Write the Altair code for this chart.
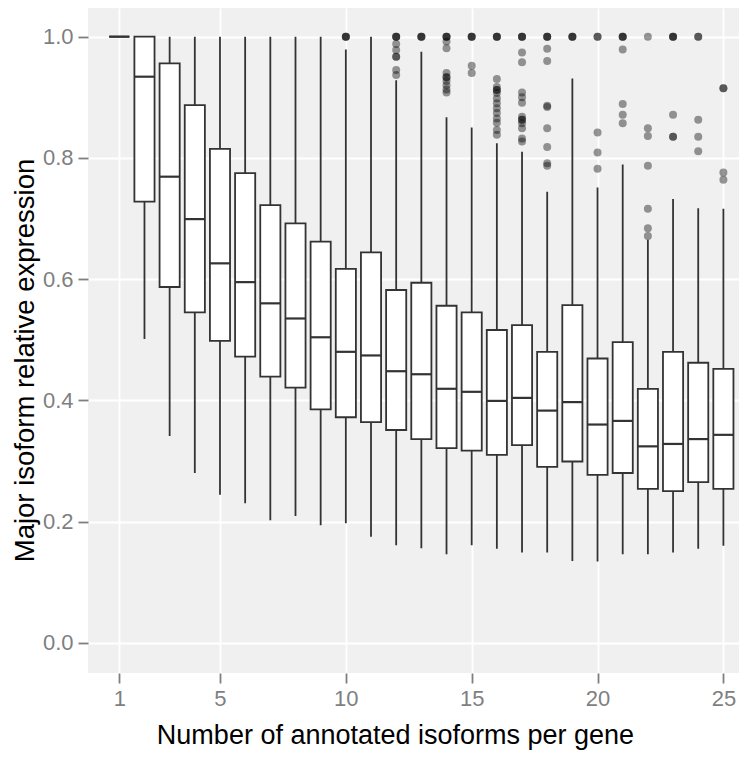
import altair as alt
import pandas as pd

# Box statistics per number of annotated isoforms
groups = list(range(1, 26))
lower = [1.0, 0.501, 0.341, 0.280, 0.244, 0.230, 0.202, 0.209, 0.194, 0.197,
         0.175, 0.161, 0.156, 0.146, 0.161, 0.155, 0.149, 0.149, 0.135, 0.134,
         0.146, 0.146, 0.149, 0.155, 0.160]
q1 = [1.0, 0.728, 0.587, 0.545, 0.498, 0.472, 0.439, 0.421, 0.385, 0.372,
      0.364, 0.351, 0.336, 0.321, 0.317, 0.310, 0.326, 0.290, 0.299, 0.277,
      0.280, 0.254, 0.250, 0.265, 0.254]
median = [1.0, 0.934, 0.769, 0.699, 0.626, 0.595, 0.560, 0.535, 0.504, 0.480,
          0.474, 0.448, 0.443, 0.419, 0.414, 0.399, 0.404, 0.383, 0.397, 0.360,
          0.366, 0.324, 0.328, 0.336, 0.343]
q3 = [1.0, 1.0, 0.956, 0.887, 0.815, 0.775, 0.722, 0.692, 0.662, 0.617,
      0.644, 0.582, 0.594, 0.556, 0.545, 0.516, 0.524, 0.480, 0.557, 0.469,
      0.496, 0.419, 0.480, 0.462, 0.452]
upper = [1.0, 1.0, 1.0, 1.0, 1.0, 1.0, 1.0, 1.0, 1.0, 0.979,
         1.0, 0.928, 0.975, 0.867, 0.850, 0.824, 0.810, 0.744, 0.931, 0.751,
         0.789, 0.665, 0.732, 0.717, 0.716]

# Outliers (repeated values reproduce the darker overlapping points)
outlier_group = (
    [10] * 3
    + [12] * 9
    + [13] * 3
    + [14] * 12
    + [15] * 5
    + [16] * 16
    + [17] * 15
    + [18] * 11
    + [19] * 3
    + [20] * 5
    + [21] * 7
    + [22] * 7
    + [23] * 6
    + [24] * 5
    + [25] * 4
)
outlier_value = (
    [1.0, 1.0, 1.0]
    + [1.0, 1.0, 1.0, 0.988, 0.978, 0.967, 0.967, 0.945, 0.937]
    + [1.0, 1.0, 1.0]
    + [1.0, 1.0, 1.0, 0.992, 0.981, 0.940, 0.933, 0.933, 0.927, 0.920, 0.913, 0.908]
    + [1.0, 1.0, 1.0, 0.952, 0.940]
    + [1.0, 1.0, 1.0, 0.930, 0.917, 0.912, 0.912, 0.907, 0.898, 0.890, 0.882,
       0.874, 0.865, 0.858, 0.846, 0.838]
    + [1.0, 1.0, 1.0, 0.974, 0.958, 0.908, 0.900, 0.891, 0.868, 0.863, 0.863,
       0.857, 0.849, 0.832, 0.827]
    + [1.0, 1.0, 1.0, 0.980, 0.960, 0.886, 0.884, 0.849, 0.818, 0.791, 0.787]
    + [1.0, 1.0, 1.0]
    + [1.0, 1.0, 0.842, 0.809, 0.782]
    + [1.0, 1.0, 1.0, 0.979, 0.889, 0.871, 0.857]
    + [1.0, 0.849, 0.836, 0.787, 0.716, 0.684, 0.671]
    + [1.0, 1.0, 1.0, 0.871, 0.835, 0.835]
    + [1.0, 1.0, 0.863, 0.835, 0.811]
    + [0.915, 0.915, 0.776, 0.764]
)

x_ticks = [1, 5, 10, 15, 20, 25]
y_ticks = [0.0, 0.2, 0.4, 0.6, 0.8, 1.0]

box_df = pd.DataFrame({"n": groups, "lower": lower, "q1": q1, "median": median,
                       "q3": q3, "upper": upper})
out_df = pd.DataFrame({"n": outlier_group, "value": outlier_value})

FONT = "Liberation Sans"
LINE = "#333333"
GREY = "#7f7f7f"

xscale = alt.Scale(domain=[-0.2436, 25.62], nice=False, zero=False)
yscale = alt.Scale(domain=[-0.05, 1.04736], nice=False, zero=False)

x_axis = alt.Axis(
    values=x_ticks, format="d", title="Number of annotated isoforms per gene",
    grid=True, gridColor="white", gridWidth=1.8, domain=False,
    tickColor=GREY, tickSize=10, tickWidth=1.8,
    labelColor=GREY, labelFont=FONT, labelFontSize=22, labelPadding=5,
    titleFont=FONT, titleFontSize=27, titleFontWeight="normal", titleColor="black",
    titleX=307, titleY=70, titleBaseline="alphabetic", titleAlign="center",
)
y_axis = alt.Axis(
    values=y_ticks, format=".1f", title="Major isoform relative expression",
    grid=True, gridColor="white", gridWidth=1.8, domain=False,
    tickColor=GREY, tickSize=10, tickWidth=1.8,
    labelColor=GREY, labelFont=FONT, labelFontSize=22, labelPadding=5,
    titleFont=FONT, titleFontSize=27.5, titleFontWeight="normal", titleColor="black",
    titleX=-54.5, titleY=352, titleBaseline="alphabetic", titleAlign="center",
    titleAngle=270,
)

base = alt.Chart(box_df)

whiskers = base.mark_rule(color=LINE, strokeWidth=1.8).encode(
    x=alt.X("n:Q", scale=xscale, axis=x_axis),
    y=alt.Y("lower:Q", scale=yscale, axis=y_axis),
    y2="upper:Q",
)

boxes = base.transform_calculate(
    xl="datum.n - 0.4", xr="datum.n + 0.4"
).mark_rect(fill="white", stroke=LINE, strokeWidth=1.8).encode(
    x=alt.X("xl:Q", scale=xscale, axis=x_axis),
    x2="xr:Q",
    y=alt.Y("q1:Q", scale=yscale, axis=y_axis),
    y2="q3:Q",
)

medians = base.transform_calculate(
    xl="datum.n - 0.4", xr="datum.n + 0.4"
).mark_rule(color=LINE, strokeWidth=2.2).encode(
    x=alt.X("xl:Q", scale=xscale, axis=x_axis),
    x2="xr:Q",
    y=alt.Y("median:Q", scale=yscale, axis=y_axis),
)

outliers = alt.Chart(out_df).mark_circle(color="black", opacity=0.4, size=64).encode(
    x=alt.X("n:Q", scale=xscale, axis=x_axis),
    y=alt.Y("value:Q", scale=yscale, axis=y_axis),
)

chart = alt.layer(whiskers, boxes, medians, outliers).properties(
    width=651, height=665,
    autosize=alt.AutoSizeParams(type="none"),
    padding={"left": 80, "top": 0, "right": 0, "bottom": 77},
).configure_view(fill="#f0f0f0", stroke=None)

chart.save("out.html", embed_options={"renderer": "svg", "actions": False})
